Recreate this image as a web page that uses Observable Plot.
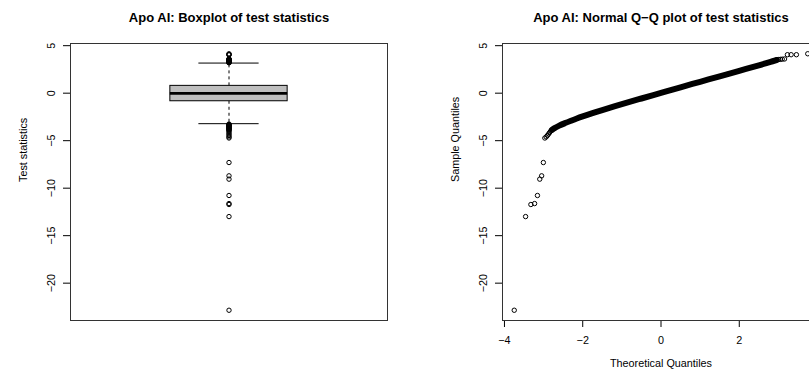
<!DOCTYPE html>
<html>
<head>
<meta charset="utf-8">
<script src="https://cdn.jsdelivr.net/npm/d3@7"></script>
<script src="https://cdn.jsdelivr.net/npm/@observablehq/plot@0.6"></script>
<style>
  html, body { margin: 0; padding: 0; background: #fff; }
  #wrap { position: relative; width: 809px; height: 370px; overflow: hidden; background: #fff; }
  #left, #right { position: absolute; top: 0; width: 432px; height: 370px; }
  #left { left: 0; }
  #right { left: 432px; }
  #wrap svg { max-width: none !important; }
</style>
</head>
<body>
<div id="wrap"><div id="left"></div><div id="right"></div></div>
<script>
// ---------- text ----------
const boxTitle = "Apo AI: Boxplot of test statistics";
const qqTitle = "Apo AI: Normal Q\u2212Q plot of test statistics";
const boxYLabel = "Test statistics";
const qqYLabel = "Sample Quantiles";
const qqXLabel = "Theoretical Quantiles";

// ---------- ticks ----------
const yTicks = [5, 0, -5, -10, -15, -20];
const xTicks = [-4, -2, 0, 2];

// ---------- boxplot summary ----------
const lowerWhisker = -3.21;
const q1 = -0.85;
const median = -0.02;
const q3 = 0.77;
const upperWhisker = 3.17;
const upperOutliers = [3.2, 3.22, 3.25, 3.28, 3.3, 3.33, 3.36, 3.4, 3.43, 3.46, 3.5, 3.52, 3.54, 3.56, 3.58, 3.6, 4.05, 4.05, 4.05, 4.15];
const lowerOutliers = [-3.25, -3.3, -3.35, -3.4, -3.45, -3.5, -3.55, -3.6, -3.65, -3.7, -3.75, -3.8, -3.85, -3.9, -4.0, -4.15, -4.3, -4.45, -4.6, -4.72, -7.3, -8.7, -9.05, -10.77, -11.62, -11.72, -12.99, -22.85];

// ---------- Q-Q plot ----------
// individually visible points in the lower tail
const lowTailQ = [-3.75, -3.46, -3.325, -3.23, -3.157, -3.098, -3.05, -3.006, -2.968, -2.933, -2.902, -2.873, -2.847, -2.822, -2.799];
const lowTailS = [-22.85, -12.99, -11.72, -11.62, -10.77, -9.05, -8.7, -7.3, -4.72, -4.6, -4.45, -4.3, -4.15, -4.0, -3.9];
// individually visible points in the upper tail
const highTailQ = [2.94, 2.97, 3.006, 3.05, 3.098, 3.157, 3.23, 3.325, 3.46, 3.75];
const highTailS = [3.5, 3.52, 3.54, 3.56, 3.58, 3.6, 4.05, 4.05, 4.05, 4.15];
// dense band of overlapping points (centre line)
const bandQ = [-2.78, -2.72, -2.6, -2.45, -2.3, -2.15, -2.0, -1.75, -1.5, -1.0, -0.5, 0, 0.5, 1.0, 1.5, 2.0, 2.5, 2.8, 2.95];
const bandS = [-3.85, -3.68, -3.42, -3.15, -2.9, -2.66, -2.44, -2.1, -1.78, -1.16, -0.56, 0.03, 0.62, 1.2, 1.78, 2.35, 2.93, 3.3, 3.48];

// ---------- shared styling ----------
const boxCenter = 1;
const boxHalf = 0.185;
const stapleHalf = 0.095;
const yDomain = [-23.93, 5.23];
const fmt = d => d < 0 ? "\u2212" + Math.abs(d) : String(d);
const font = "'Liberation Sans', Arial, Helvetica, sans-serif";
const common = {
  width: 432, height: 370,
  marginLeft: 70, marginRight: 45, marginTop: 43, marginBottom: 50,
  style: { fontFamily: font, fontSize: "10.8px", background: "white", color: "black", maxWidth: "none" }
};

const boxRect = [{ x1: boxCenter - boxHalf, x2: boxCenter + boxHalf, y1: q1, y2: q3 }];
const whiskers = [
  { x: boxCenter, from: q3, to: upperWhisker },
  { x: boxCenter, from: q1, to: lowerWhisker }
];
const staples = [upperWhisker, lowerWhisker].map(y => ({ y, x1: boxCenter - stapleHalf, x2: boxCenter + stapleHalf }));
const medianLine = [{ y: median, x1: boxCenter - boxHalf, x2: boxCenter + boxHalf }];
const outliers = upperOutliers.concat(lowerOutliers).map(y => ({ x: boxCenter, y }));

const left = Plot.plot({
  ...common,
  x: { domain: [0.5, 1.5], axis: null },
  y: { domain: yDomain, axis: null },
  marks: [
    Plot.axisY({ ticks: yTicks, tickSize: 7, tickRotate: -90, tickPadding: 9, tickFormat: fmt, label: null, fontSize: 10.8 }),
    Plot.ruleX(whiskers, { x: "x", y1: "from", y2: "to", stroke: "black", strokeDasharray: "3,3" }),
    Plot.ruleY(staples, { y: "y", x1: "x1", x2: "x2", stroke: "black" }),
    Plot.rect(boxRect, { x1: "x1", x2: "x2", y1: "y1", y2: "y2", fill: "#bebebe", stroke: "black", strokeWidth: 1 }),
    Plot.ruleY(medianLine, { y: "y", x1: "x1", x2: "x2", stroke: "black", strokeWidth: 2.6 }),
    Plot.dot(outliers, { x: "x", y: "y", r: 2.2, stroke: "black", strokeWidth: 1 }),
    Plot.frame({ stroke: "#333" }),
    Plot.text([boxTitle], { text: d => d, frameAnchor: "top", dy: -22, lineAnchor: "bottom", fontWeight: "bold", fontSize: 13 }),
    Plot.text([boxYLabel], { text: d => d, frameAnchor: "left", dx: -47, rotate: -90, fontSize: 10.8 })
  ]
});
document.getElementById("left").appendChild(left);

const tailPoints = lowTailQ.map((q, i) => ({ q, s: lowTailS[i] }))
  .concat(highTailQ.map((q, i) => ({ q, s: highTailS[i] })));
const band = bandQ.map((q, i) => ({ q, s: bandS[i] }));

const right = Plot.plot({
  ...common,
  x: { domain: [-4.05, 4.05], axis: null },
  y: { domain: yDomain, axis: null },
  marks: [
    Plot.axisY({ ticks: yTicks, tickSize: 7, tickRotate: -90, tickPadding: 9, tickFormat: fmt, label: null, fontSize: 10.8 }),
    Plot.axisX({ ticks: xTicks, tickSize: 7, tickPadding: 9, tickFormat: fmt, label: null, fontSize: 10.8 }),
    Plot.line(band, { x: "q", y: "s", stroke: "black", strokeWidth: 6, strokeLinecap: "round", strokeLinejoin: "round", curve: "catmull-rom" }),
    Plot.dot(tailPoints, { x: "q", y: "s", r: 2.2, stroke: "black", strokeWidth: 1 }),
    Plot.frame({ stroke: "#333" }),
    Plot.text([qqTitle], { text: d => d, frameAnchor: "top", dy: -22, lineAnchor: "bottom", fontWeight: "bold", fontSize: 13 }),
    Plot.text([qqYLabel], { text: d => d, frameAnchor: "left", dx: -47, rotate: -90, fontSize: 10.8 }),
    Plot.text([qqXLabel], { text: d => d, frameAnchor: "bottom", dy: 46, lineAnchor: "bottom", fontSize: 10.8 })
  ]
});
document.getElementById("right").appendChild(right);
</script>
</body>
</html>
